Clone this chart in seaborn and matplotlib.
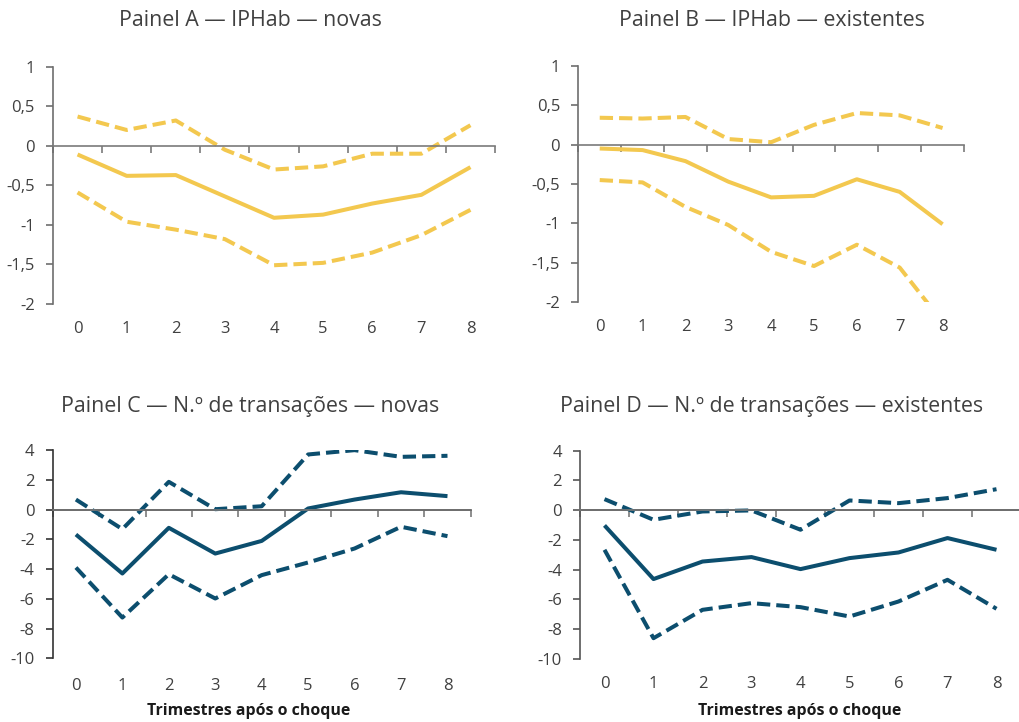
import numpy as np
import matplotlib
matplotlib.use("Agg")
import matplotlib.pyplot as plt
import matplotlib.transforms as mtransforms
from matplotlib.ticker import FuncFormatter, FixedLocator
import seaborn as sns

sns.set_style("white")
plt.rcParams["font.family"] = ["Open Sans", "DejaVu Sans"]

quarters = [0, 1, 2, 3, 4, 5, 6, 7, 8]
quarter_labels = ["0", "1", "2", "3", "4", "5", "6", "7", "8"]

# Painel A - IPHab novas
a_mid = [-0.11, -0.38, -0.37, -0.64, -0.91, -0.87, -0.73, -0.62, -0.27]
a_up = [0.37, 0.20, 0.32, -0.05, -0.30, -0.26, -0.10, -0.10, 0.26]
a_lo = [-0.59, -0.96, -1.06, -1.18, -1.51, -1.48, -1.35, -1.13, -0.81]

# Painel B - IPHab existentes
b_mid = [-0.05, -0.07, -0.21, -0.47, -0.67, -0.65, -0.44, -0.60, -1.01]
b_up = [0.34, 0.33, 0.35, 0.07, 0.03, 0.25, 0.40, 0.37, 0.21]
b_lo = [-0.45, -0.48, -0.79, -1.02, -1.36, -1.54, -1.27, -1.56, -2.25]

# Painel C - transacoes novas
c_mid = [-1.68, -4.30, -1.23, -2.96, -2.11, 0.07, 0.67, 1.16, 0.90]
c_up = [0.67, -1.32, 1.86, 0.02, 0.22, 3.70, 3.99, 3.54, 3.61]
c_lo = [-3.90, -7.26, -4.35, -5.98, -4.41, -3.56, -2.62, -1.16, -1.79]

# Painel D - transacoes existentes
d_mid = [-1.03, -4.64, -3.46, -3.16, -3.97, -3.23, -2.85, -1.88, -2.67]
d_up = [0.74, -0.65, -0.09, -0.02, -1.32, 0.65, 0.47, 0.81, 1.41]
d_lo = [-2.67, -8.62, -6.71, -6.26, -6.53, -7.16, -6.15, -4.69, -6.64]

yellow = "#F3C84F"
navy = "#0C4E6E"
text_col = "#404040"

fig = plt.figure(figsize=(10.2, 7.22), dpi=100)
W, H = 1020, 722


def add_ax(l, t, r, b):
    return fig.add_axes([l / W, 1 - b / H, (r - l) / W, (b - t) / H])


def fmt(v, pos):
    s = f"{v:g}".replace(".", ",")
    return "0" if s in ("-0", "0") else s


def panel(ax, mid, up, lo, color, ylim, yticks, spine_col, zero_line, lab_off):
    sns.lineplot(x=quarters, y=mid, ax=ax, color=color, lw=2.9)
    for s in (up, lo):
        sns.lineplot(x=quarters, y=s, ax=ax, color=color, lw=2.9)
        ax.lines[-1].set_dashes((3.3, 1.5))
    for ln in ax.lines:
        ln.set_solid_capstyle("butt")
        ln.set_dash_capstyle("butt")
    ax.set_xlim(-0.5, 8.5)
    ax.set_ylim(*ylim)
    for side in ("top", "right"):
        ax.spines[side].set_visible(False)
    ax.spines["left"].set_color(spine_col)
    ax.spines["left"].set_linewidth(1.2)
    ax.spines["bottom"].set_position(("data", 0))
    ax.spines["bottom"].set_color("#7a7a7a")
    ax.spines["bottom"].set_linewidth(1.2)
    ax.yaxis.set_major_locator(FixedLocator(yticks))
    ax.yaxis.set_major_formatter(FuncFormatter(fmt))
    ax.xaxis.set_major_locator(FixedLocator(np.arange(-0.5, 9, 1)))
    ax.set_xticklabels([])
    ax.tick_params(axis="y", which="major", left=True, length=5, width=1.2,
                   color=spine_col, labelsize=12, labelcolor=text_col, pad=8)
    ax.tick_params(axis="x", which="major", bottom=True, length=5, width=1.2,
                   color="#7a7a7a")
    if zero_line:
        ax.axhline(0, color="black", lw=1.1, zorder=1.5, clip_on=False)
    tr = mtransforms.blended_transform_factory(ax.transData, ax.transAxes)
    for q, lbl in zip(quarters, quarter_labels):
        ax.annotate(lbl, xy=(q, 0), xycoords=tr, xytext=(0, -lab_off),
                    textcoords="offset points", ha="center", va="center",
                    fontsize=12, color=text_col)
    ax.set_xlabel("")
    ax.set_ylabel("")


ax_a = add_ax(53, 66.7, 495, 304)
panel(ax_a, a_mid, a_up, a_lo, yellow, (-2, 1), [-2, -1.5, -1, -0.5, 0, 0.5, 1],
      "#6e6e6e", False, 18)
ax_b = add_ax(578.3, 65.7, 964, 302.3)
panel(ax_b, b_mid, b_up, b_lo, yellow, (-2, 1), [-2, -1.5, -1, -0.5, 0, 0.5, 1],
      "#6e6e6e", False, 18)
ax_c = add_ax(52.7, 450, 470.7, 658.3)
panel(ax_c, c_mid, c_up, c_lo, navy, (-10, 4), [-10, -8, -6, -4, -2, 0, 2, 4],
      "#333333", True, 20)
ax_d = add_ax(580, 450.7, 1021, 658.7)
panel(ax_d, d_mid, d_up, d_lo, navy, (-10, 4), [-10, -8, -6, -4, -2, 0, 2, 4],
      "#555555", True, 18)

titles = [("Painel A — IPHab — novas", 250, 20),
          ("Painel B — IPHab — existentes", 772, 20),
          ("Painel C — N.º de transações — novas", 250, 407),
          ("Painel D — N.º de transações — existentes", 772, 407)]
for t, x, y in titles:
    fig.text(x / W, 1 - y / H, t, ha="center", va="center", fontsize=15.4,
             color=text_col)

for x in (248.5, 800):
    fig.text(x / W, 1 - 711 / H, "Trimestres após o choque", ha="center",
             va="center", fontsize=11.4, fontweight="bold", color="#1a1a1a")

fig.savefig("out.png", dpi=100)
